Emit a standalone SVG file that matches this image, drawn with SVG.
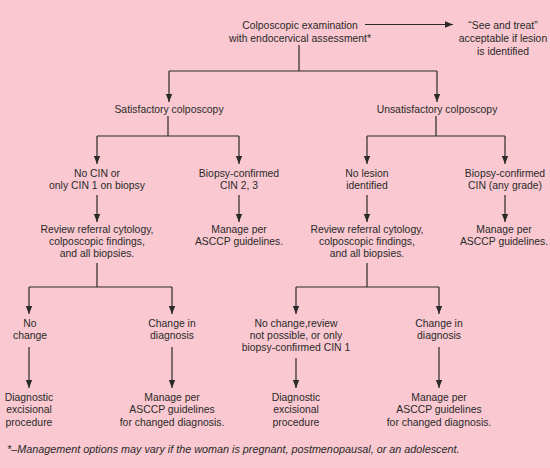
<svg xmlns="http://www.w3.org/2000/svg" width="550" height="468" viewBox="0 0 550 468">
<defs>
<marker id="ah" markerWidth="8" markerHeight="8" refX="8" refY="4" orient="auto" markerUnits="userSpaceOnUse">
<path d="M0,0.8 L8,4 L0,7.2 Z" fill="#2a2a2a"/>
</marker>
<style>
text{font-family:"Liberation Sans",Arial,sans-serif;font-size:10.4px;fill:#2a2a2a;text-anchor:middle}
.c{fill:none;stroke:#2a2a2a;stroke-width:1.2}
.a{marker-end:url(#ah)}
.fn{text-anchor:start;font-style:italic;font-size:10.8px}
</style>
</defs>
<rect width="550" height="468" fill="#F9C8D0"/>
<g id="connectors">
<path class="c a" d="M365,24.5 H453"/>
<path class="c" d="M299,45 V71 M169,71 H437"/>
<path class="c a" d="M169,71 V102"/>
<path class="c a" d="M437,71 V102"/>
<path class="c" d="M168,116 V136 M97,136 H239"/>
<path class="c a" d="M97,136 V164"/>
<path class="c a" d="M239,136 V164"/>
<path class="c" d="M436,116 V136 M367,136 H505"/>
<path class="c a" d="M367,136 V164"/>
<path class="c a" d="M505,136 V164"/>
<path class="c a" d="M97,195 V222"/>
<path class="c a" d="M239,195 V222"/>
<path class="c a" d="M367,195 V222"/>
<path class="c a" d="M505,195 V222"/>
<path class="c" d="M97,263 V287 M29,287 H172"/>
<path class="c a" d="M29,287 V314"/>
<path class="c a" d="M172,287 V314"/>
<path class="c" d="M367,263 V287 M296,287 H439"/>
<path class="c a" d="M296,287 V314"/>
<path class="c a" d="M439,287 V314"/>
<path class="c a" d="M29,347 V388"/>
<path class="c a" d="M172,347 V388"/>
<path class="c a" d="M296,358 V388"/>
<path class="c a" d="M439,347 V388"/>
</g>
<g id="n-exam"><text x="300" y="28.5">Colposcopic examination</text><text x="300" y="41.5">with endocervical assessment*</text></g>
<g id="n-see"><text x="503" y="28.5">“See and treat”</text><text x="503" y="41.5">acceptable if lesion</text><text x="503" y="54.5">is identified</text></g>
<g id="n-sat"><text x="169" y="113">Satisfactory colposcopy</text></g>
<g id="n-unsat"><text x="437" y="113">Unsatisfactory colposcopy</text></g>
<g id="n-nocin"><text x="97" y="177">No CIN or</text><text x="97" y="189">only CIN 1 on biopsy</text></g>
<g id="n-bc23"><text x="239" y="177">Biopsy-confirmed</text><text x="239" y="189">CIN 2, 3</text></g>
<g id="n-nolesion"><text x="367" y="177">No lesion</text><text x="367" y="189">identified</text></g>
<g id="n-bcany"><text x="505" y="177">Biopsy-confirmed</text><text x="505" y="189">CIN (any grade)</text></g>
<g id="n-review1"><text x="97" y="233">Review referral cytology,</text><text x="97" y="245">colposcopic findings,</text><text x="97" y="257">and all biopsies.</text></g>
<g id="n-manage1"><text x="239" y="233">Manage per</text><text x="239" y="245">ASCCP guidelines.</text></g>
<g id="n-review2"><text x="367" y="233">Review referral cytology,</text><text x="367" y="245">colposcopic findings,</text><text x="367" y="257">and all biopsies.</text></g>
<g id="n-manage2"><text x="504" y="233">Manage per</text><text x="504" y="245">ASCCP guidelines.</text></g>
<g id="n-nochange1"><text x="30" y="327">No</text><text x="30" y="339">change</text></g>
<g id="n-change1"><text x="172" y="327">Change in</text><text x="172" y="339">diagnosis</text></g>
<g id="n-nochange2"><text x="296" y="327">No change,review</text><text x="296" y="339">not possible, or only</text><text x="296" y="351">biopsy-confirmed CIN 1</text></g>
<g id="n-change2"><text x="439" y="327">Change in</text><text x="439" y="339">diagnosis</text></g>
<g id="n-diag1"><text x="29" y="401">Diagnostic</text><text x="29" y="413">excisional</text><text x="29" y="426">procedure</text></g>
<g id="n-manage3"><text x="172" y="401">Manage per</text><text x="172" y="413">ASCCP guidelines</text><text x="172" y="426">for changed diagnosis.</text></g>
<g id="n-diag2"><text x="296" y="401">Diagnostic</text><text x="296" y="413">excisional</text><text x="296" y="426">procedure</text></g>
<g id="n-manage4"><text x="439" y="401">Manage per</text><text x="439" y="413">ASCCP guidelines</text><text x="439" y="426">for changed diagnosis.</text></g>
<g id="footnote"><text class="fn" x="7" y="453">*–Management options may vary if the woman is pregnant, postmenopausal, or an adolescent.</text></g>
</svg>
